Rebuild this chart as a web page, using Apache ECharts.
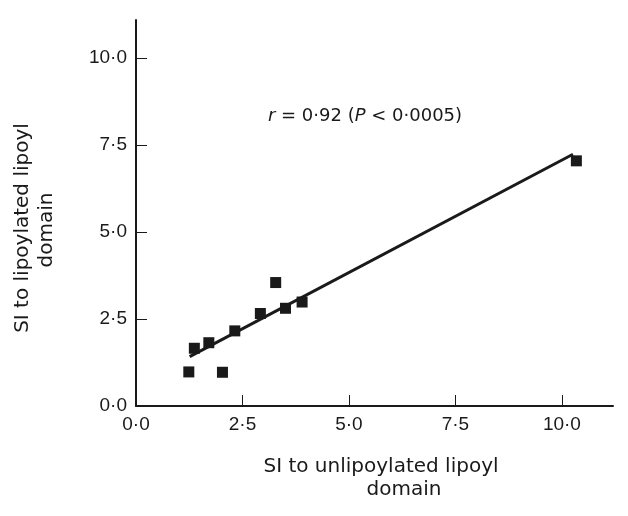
<!DOCTYPE html>
<html><head><meta charset="utf-8">
<script src="https://cdn.jsdelivr.net/npm/echarts@6/dist/echarts.min.js"></script>
<style>html,body{margin:0;padding:0;background:#fff}#c{width:628px;height:516px}</style>
</head><body><div id="c"></div>
<script>
const xVals = [1.24, 1.37, 1.71, 2.03, 2.32, 2.92, 3.28, 3.51, 3.90, 10.34];
const yVals = [0.98, 1.66, 1.82, 0.97, 2.16, 2.66, 3.55, 2.81, 2.99, 7.05];
const fitX = [1.26, 10.26];
const fitY = [1.42, 7.24];
const tickVals = [0, 2.5, 5, 7.5, 10];
const xTitle = ['SI to unlipoylated lipoyl', 'domain'];
const yTitle = ['SI to lipoylated lipoyl', 'domain'];

const fmt = v => v.toFixed(1).replace('.', '·');
const font = 'Liberation Sans, Arial, sans-serif';
const tfont = 'DejaVu Sans, sans-serif';
const ink = '#1a1a1a';
const chart = echarts.init(document.getElementById('c'), null, {renderer: 'canvas'});
const axisCommon = {
  type: 'value', min: 0, interval: 2.5,
  splitLine: {show: false},
  axisLine: {onZero: false, lineStyle: {color: ink, width: 2}},
  axisTick: {show: true, inside: true, length: 11, lineStyle: {color: ink, width: 1}, customValues: tickVals},
  axisLabel: {color: ink, fontSize: 19, fontFamily: font, formatter: fmt, customValues: tickVals}
};
chart.setOption({
  animation: false,
  grid: {left: 136, top: 20, right: 15, bottom: 110, containLabel: false},
  xAxis: Object.assign({}, axisCommon, {max: 11.2, axisLabel: Object.assign({}, axisCommon.axisLabel, {margin: 9})}),
  yAxis: Object.assign({}, axisCommon, {max: 11.1, axisLabel: Object.assign({}, axisCommon.axisLabel, {margin: 9})}),
  series: [
    {type: 'line', data: fitX.map((x, i) => [x, fitY[i]]), symbol: 'none',
     lineStyle: {color: ink, width: 3}, z: 2},
    {type: 'scatter', data: xVals.map((x, i) => [x, yVals[i]]), symbol: 'rect', symbolSize: 11,
     itemStyle: {color: ink, opacity: 1}, z: 3}
  ],
  graphic: [
    {type: 'text', x: 381, y: 467, style: {text: xTitle[0], font: '20px ' + tfont, fill: ink, textAlign: 'center', textVerticalAlign: 'middle'}},
    {type: 'text', x: 404, y: 490, style: {text: xTitle[1], font: '20px ' + tfont, fill: ink, textAlign: 'center', textVerticalAlign: 'middle'}},
    {type: 'text', x: 23, y: 228, rotation: Math.PI / 2, style: {text: yTitle[0], font: '20px ' + tfont, fill: ink, textAlign: 'center', textVerticalAlign: 'middle'}},
    {type: 'text', x: 47, y: 230, rotation: Math.PI / 2, style: {text: yTitle[1], font: '20px ' + tfont, fill: ink, textAlign: 'center', textVerticalAlign: 'middle'}},
    {type: 'text', x: 365, y: 116, style: {
      text: '{i|r} = 0·92 ({i|P} < 0·0005)', textAlign: 'center', textVerticalAlign: 'middle',
      font: '18px ' + tfont, fill: ink,
      rich: {i: {fontStyle: 'italic', fontSize: 18, fontFamily: tfont, fill: ink}}
    }}
  ]
});
</script></body></html>
